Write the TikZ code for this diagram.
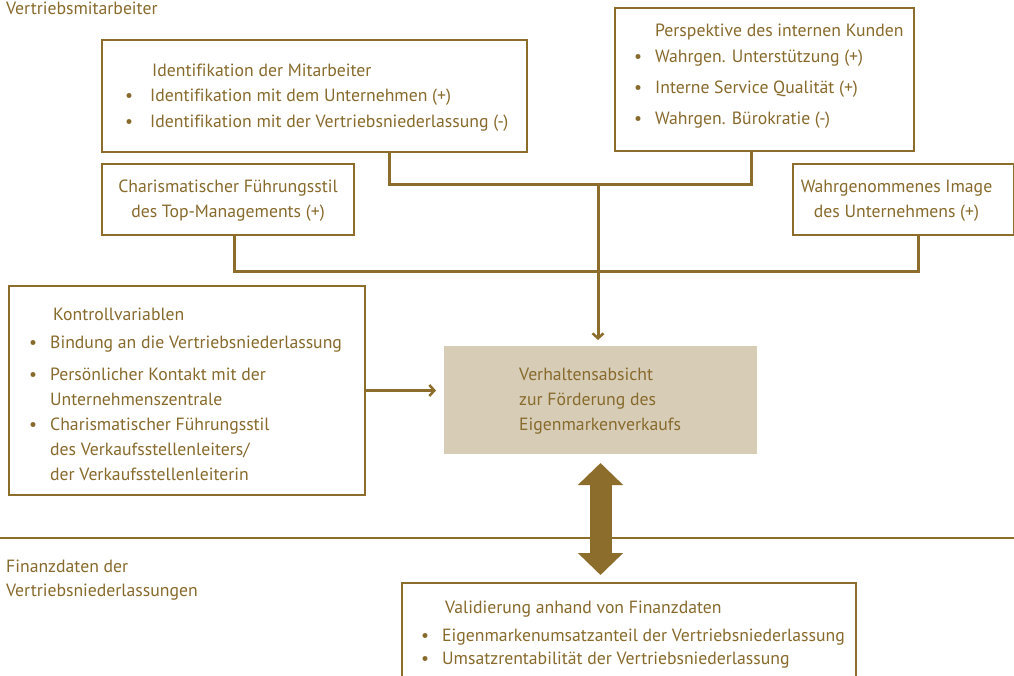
\documentclass[tikz,border=0pt]{standalone}
\usepackage{fontspec}
\setmainfont[Ligatures=CommonOff]{PT Sans}
\usetikzlibrary{arrows.meta,calc}
\definecolor{tc}{HTML}{876A2C}
\definecolor{lc}{HTML}{8C6D2C}
\definecolor{fc}{HTML}{D7CCB6}
\newcommand{\bu}[1][13pt]{\llap{\textbullet\hspace{#1}}}
\newcommand{\fs}{\fontsize{17.7}{25}\selectfont}
\tikzset{
  txt/.style={anchor=west, inner sep=0pt, text height=12pt, text depth=4pt, font=\fs, text=tc, yshift=-3pt},
  ctxt/.style={inner sep=0pt, font=\fs, text=tc, align=center, yshift=-1pt},
  box/.style={draw=lc, line width=2pt, inner sep=0pt, anchor=north west},
  conn/.style={draw=lc, line width=3pt},
  tip/.style={-{Straight Barb[length=5pt,width=11pt,line width=2.5pt]}},
  dbl/.style={draw=lc, line width=22pt, {Triangle[length=22pt,width=44pt]}-{Triangle[length=22pt,width=44pt]}},
  sep/.style={draw=lc, line width=1.5pt}
}
\begin{document}
\begin{tikzpicture}[x=1pt,y=-1pt]
\clip (0,0) rectangle (1014,676);
\fill[white] (0,0) rectangle (1014,676);

% boxes
\node[box, minimum width=425pt, minimum height=112pt] (ident) at (101,39) {};
\node[box, minimum width=299pt, minimum height=143pt] (persp) at (614,7) {};
\node[box, minimum width=252pt, minimum height=71pt] (charis) at (101,163) {};
\node[box, minimum width=221pt, minimum height=71pt] (image) at (792,163) {};
\node[box, minimum width=356pt, minimum height=209pt] (kontroll) at (8,285) {};
\node[box, draw=none, fill=fc, minimum width=313pt, minimum height=108pt] (verh) at (443,345) {};
\node[box, minimum width=454pt, minimum height=130pt] (valid) at (401,582) {};

% texts
\node[txt] (t0) at (6,8) {Vertriebsmitarbeiter};

\node[txt] (i0) at (152,70) {Identifikation der Mitarbeiter};
\node[txt] (i1) at (150,95) {\bu[17pt]Identifikation mit dem Unternehmen (+)};
\node[txt] (i2) at (150,121) {\bu[17pt]Identifikation mit der Vertriebsniederlassung (-)};

\node[txt] (p0) at (655,30) {Perspektive des internen Kunden};
\node[txt] (p1) at (655,56) {\bu Wahrgen. Unterstützung (+)};
\node[txt] (p2) at (655,87) {\bu Interne Service Qualität (+)};
\node[txt] (p3) at (655,118) {\bu Wahrgen. Bürokratie (-)};

\node[ctxt] (c0) at (charis.center) {Charismatischer Führungsstil\\des Top-Managements (+)};
\node[ctxt] (m0) at ([xshift=-7pt]image.center) {Wahrgenommenes Image\\des Unternehmens (+)};

\node[txt] (k0) at (53,313) {Kontrollvariablen};
\node[txt] (k1) at (50,341) {\bu Bindung an die Vertriebsniederlassung};
\node[txt] (k2) at (50,373) {\bu Persönlicher Kontakt mit der};
\node[txt] (k3) at (50,398) {Unternehmenszentrale};
\node[txt] (k4) at (50,423) {\bu Charismatischer Führungsstil};
\node[txt] (k5) at (50,448) {des Verkaufsstellenleiters/};
\node[txt] (k6) at (50,473) {der Verkaufsstellenleiterin};

\node[txt] (v1) at (519,373) {Verhaltensabsicht};
\node[txt] (v2) at (519,398) {zur Förderung des};
\node[txt] (v3) at (519,423) {Eigenmarkenverkaufs};

\node[txt] (f1) at (6,565) {Finanzdaten der};
\node[txt] (f2) at (6,589) {Vertriebsniederlassungen};

\node[txt] (b0) at (445,606) {Validierung anhand von Finanzdaten};
\node[txt] (b1) at (442,634) {\bu Eigenmarkenumsatzanteil der Vertriebsniederlassung};
\node[txt] (b2) at (442,657) {\bu Umsatzrentabilität der Vertriebsniederlassung};

% connectors
\coordinate (jA) at (598,185);
\coordinate (jB) at (598,272);
\draw[conn] ([xshift=74.5pt]ident.south) |- (jA) -| ([xshift=-13.5pt]persp.south);
\draw[conn] ([xshift=6pt]charis.south) |- (jB) -| ([xshift=14.5pt]image.south);
\draw[conn, tip, shorten >=5pt] (jA) -- (verh.north -| jA);
\draw[conn, line width=2.5pt, tip, shorten >=7pt] (kontroll.east) -- (kontroll.east -| verh.west);

% separator
\coordinate (sl) at (0,538);
\coordinate (sr) at (1014,538);
\draw[sep] (sl) -- (sr);

% double arrow
\draw[dbl] ([yshift=-8pt]verh.south) -- ([yshift=7pt]valid.north -| verh.south);
\end{tikzpicture}
\end{document}
